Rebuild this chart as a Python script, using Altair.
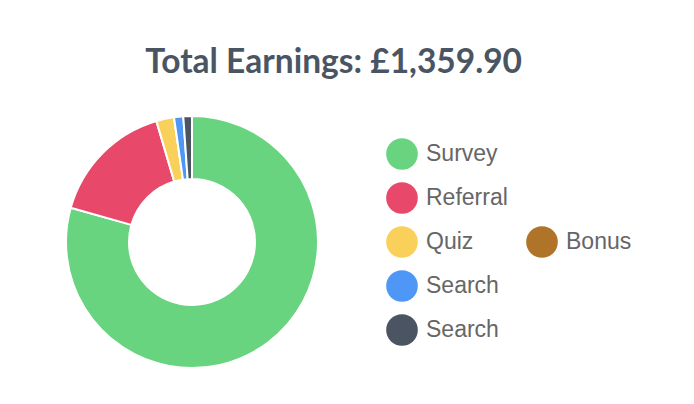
import altair as alt
import pandas as pd

# earnings by source, in the order the donut draws them (clockwise from the top)
sources = ["Survey", "Referral", "Quiz", "Bonus", "Search", "Search"]
keys = ["survey", "referral", "quiz", "bonus", "search", "search_2"]
amounts = [1079.50, 218.40, 31.00, 0.00, 16.00, 15.00]
colors = ["#68D47F", "#E8496A", "#F9D15A", "#B07428", "#4F97F7", "#4A5462"]

# legend grid - Bonus got wrapped into a second column
legend_col = [0, 0, 0, 1, 0, 0]
legend_row = [0, 1, 2, 2, 3, 4]

df = pd.DataFrame({
    "source": sources,
    "key": keys,
    "amount": amounts,
    "order": list(range(len(keys))),
    "col": legend_col,
    "row": legend_row,
})

total = sum(amounts)

color = alt.Color("key:N", scale=alt.Scale(domain=keys, range=colors), legend=None)

# --- donut ---
donut = (
    alt.Chart(df)
    .mark_arc(innerRadius=63, outerRadius=126, stroke="white", strokeWidth=2)
    .encode(
        theta=alt.Theta("amount:Q", stack=True),
        color=color,
        order=alt.Order("order:Q"),
        tooltip=[
            alt.Tooltip("source:N", title="Source"),
            alt.Tooltip("amount:Q", title="Earnings", format=",.2f"),
        ],
    )
    .properties(width=254, height=254)
)

# --- legend drawn as its own panel ---
legend_base = alt.Chart(df).encode(
    x=alt.X("col:O", axis=None, scale=alt.Scale(type="point", range=[16, 156], padding=0)),
    y=alt.Y("row:O", axis=None, scale=alt.Scale(type="point", range=[39, 215], padding=0)),
)

dots = legend_base.mark_circle(size=1000, opacity=1).encode(color=color)

labels = legend_base.mark_text(
    align="left", baseline="middle", dx=24,
    font="Liberation Sans", fontSize=23, color="#666666"
).encode(text="source:N")

legend = (dots + labels).properties(width=214, height=254)

chart = (
    alt.hconcat(donut, legend, spacing=64)
    .properties(
        title=alt.TitleParams(
            f"Total Earnings: £{total:,.2f}",
            font="Lato", fontSize=33.5, fontWeight="bold", color="#4A5563",
            anchor="middle", offset=32, dx=-13,
        ),
        padding={"left": 54, "top": 37, "right": 10, "bottom": 10},
    )
    .configure_view(stroke=None)
)

chart.save("out.html", embed_options={"renderer": "svg", "actions": False})
